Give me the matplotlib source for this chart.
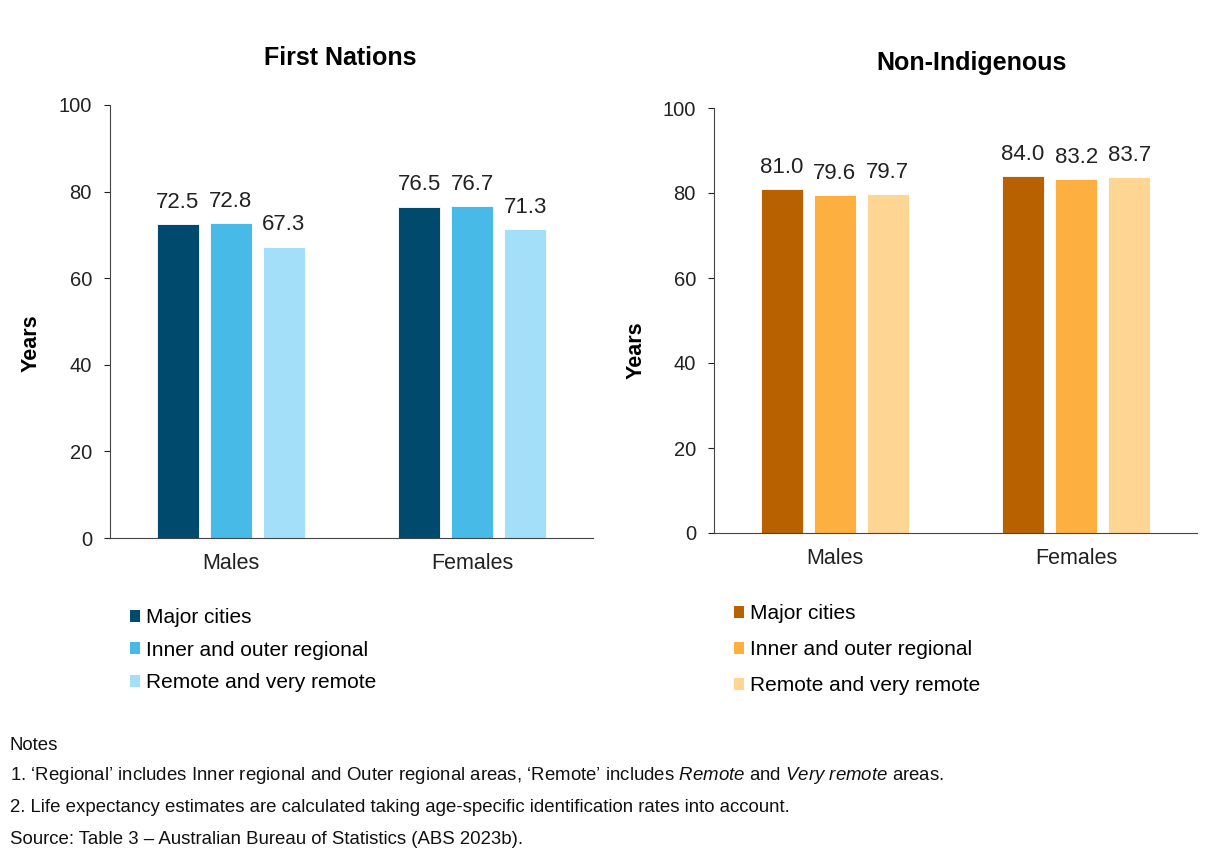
import matplotlib
matplotlib.use("Agg")
import matplotlib.pyplot as plt
from matplotlib.patches import Patch
import numpy as np

plt.rcParams['font.family'] = ['Liberation Sans', 'DejaVu Sans']
plt.rcParams['mathtext.fontset'] = 'custom'
plt.rcParams['mathtext.rm'] = 'Liberation Sans'
plt.rcParams['mathtext.it'] = 'Liberation Sans:italic'

groups = ["Males", "Females"]
areas = ["Major cities", "Inner and outer regional", "Remote and very remote"]

first_nations = {
    "Major cities": [72.5, 76.5],
    "Inner and outer regional": [72.8, 76.7],
    "Remote and very remote": [67.3, 71.3],
}
non_indigenous = {
    "Major cities": [81.0, 84.0],
    "Inner and outer regional": [79.6, 83.2],
    "Remote and very remote": [79.7, 83.7],
}

blue_colors = ["#004A6E", "#48BAE8", "#A3DFF8"]
orange_colors = ["#B76100", "#FDB040", "#FED592"]

yticks = [0, 20, 40, 60, 80, 100]

notes = [
    "Notes",
    "1. \u2018Regional\u2019 includes Inner regional and Outer regional areas, \u2018Remote\u2019 includes $\\it{Remote}$ and $\\it{Very\\ remote}$ areas.",
    "2. Life expectancy estimates are calculated taking age-specific identification rates into account.",
    "Source: Table 3 \u2013 Australian Bureau of Statistics (ABS 2023b).",
]

W, H = 1232, 850
fig = plt.figure(figsize=(W / 100, H / 100), dpi=100)

ax1 = fig.add_axes([110 / W, 1 - 538 / H, 483 / W, 433 / H])
ax2 = fig.add_axes([714 / W, 1 - 533 / H, 483 / W, 425 / H])

width = 0.174
step = 0.22


def draw_panel(ax, data, colors, title, title_xy, ylabel_xy, legend_pos, legend_spacing):
    x = np.arange(len(groups))
    for i, (area, col) in enumerate(zip(areas, colors)):
        vals = data[area]
        pos = x + (i - 1) * step
        bars = ax.bar(pos, vals, width=width, color=col, edgecolor="white", linewidth=0.6)
        for b, v in zip(bars, vals):
            ax.text(b.get_x() + b.get_width() / 2, v + 2.6, f"{v:.1f}",
                    ha="center", va="bottom", fontsize=16, color="#222222")
    ax.set_xlim(-0.5, 1.5)
    ax.set_ylim(0, 100)
    ax.set_yticks(yticks)
    ax.set_xticks(x)
    ax.set_xticklabels(groups, fontsize=15.5)
    ax.tick_params(axis="x", length=0, pad=11, colors="#222222")
    ax.tick_params(axis="y", length=4, width=0.8, labelsize=14.5, colors="#222222", pad=9)
    for s in ["top", "right"]:
        ax.spines[s].set_visible(False)
    for s in ["left", "bottom"]:
        ax.spines[s].set_color("#444444")
        ax.spines[s].set_linewidth(0.8)
    ax.set_ylabel("Years", fontsize=15.5, fontweight="bold")
    ax.yaxis.set_label_coords(*ylabel_xy)
    fig.text(title_xy[0], title_xy[1], title, ha="center", va="center",
             fontsize=18, fontweight="bold")
    handles = [Patch(facecolor=c, edgecolor="none") for c in colors]
    fig.legend(handles, areas, loc="upper left", bbox_to_anchor=legend_pos,
               frameon=False, fontsize=15, handlelength=0.5, handleheight=0.5,
               handletextpad=0.25, labelspacing=legend_spacing, borderaxespad=0,
               borderpad=0)


draw_panel(ax1, first_nations, blue_colors, "First Nations",
           (340 / W, 1 - 58 / H), (-0.141, 0.45),
           (130 / W, 1 - 608 / H), 0.65)
draw_panel(ax2, non_indigenous, orange_colors, "Non-Indigenous",
           (972 / W, 1 - 63 / H), (-0.139, 0.43),
           (734 / W, 1 - 604 / H), 0.82)

note_y = [745, 776, 808, 840]
for txt, yy in zip(notes, note_y):
    fig.text(10 / W, 1 - yy / H, txt, ha="left", va="center", fontsize=13.4, color="#111111")

fig.savefig("out.png", dpi=100, facecolor="white")
